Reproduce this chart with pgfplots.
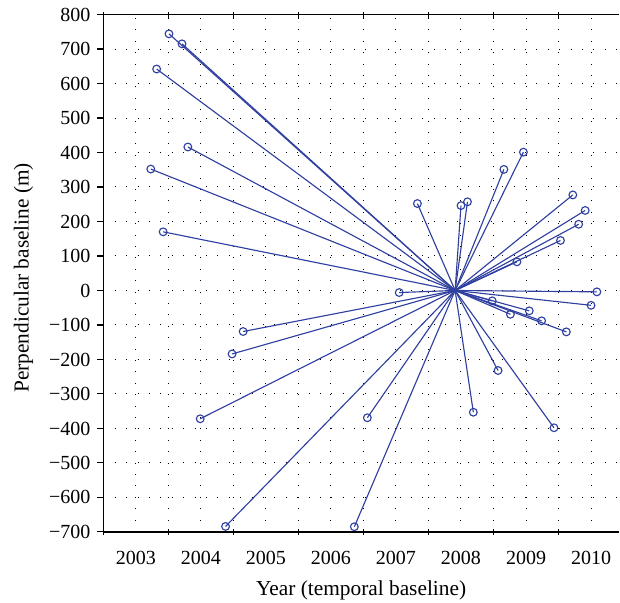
\documentclass[border=0pt]{standalone}
\usepackage{fontspec}
\setmainfont{Liberation Serif}
\usepackage{pgfplots}
\usepackage{pgfplotstable}
\pgfplotsset{compat=1.18}
\definecolor{lblue}{RGB}{48,64,160}

\pgfplotstableread{
x y
2004.01 744
2004.21 715
2003.82 642
2004.30 416
2003.73 352
2003.92 170
2009.46 401
2009.16 351
2007.83 252
2008.50 246
2008.60 257
2010.22 277
2010.41 232
2010.31 192
2010.03 145
2009.36 83
2007.55 -6
2010.59 -4
2010.50 -43
2008.98 -30
2009.55 -59
2009.26 -69
2009.74 -88
2010.12 -120
2009.07 -232
2008.69 -353
2009.93 -398
2007.06 -369
2005.15 -119
2004.98 -184
2004.49 -372
2004.88 -684
2006.86 -685
}\pts

\begin{document}
\begin{tikzpicture}
\begin{axis}[
  name=ax,
  scale only axis, width=386.8pt, height=388.1pt,
  xmin=2003, xmax=2010.93, ymin=-700, ymax=800,
  axis x line=box, axis y line=left,
  axis line style={-, line width=0.9pt},
  every non boxed y axis/.append style={y axis line style={-}},
  xtick={2003,...,2010}, xticklabels={}, minor x tick num=11,
  extra x ticks={2003.5,2004.5,2005.5,2006.5,2007.5,2008.5,2009.5,2010.5},
  extra x tick labels={2003,2004,2005,2006,2007,2008,2009,2010},
  extra x tick style={tick style={draw=none}, xmajorgrids=true},
  ytick={-700,-600,...,800},
  yticklabels={−700,−600,−500,−400,−300,−200,−100,0,100,200,300,400,500,600,700,800},
  xmajorgrids=true, ymajorgrids=true,
  grid style={black, line width=0.75pt, dash pattern=on 0.75pt off 7.8pt},
  xtick align=center, ytick align=outside,
  major tick length=4.5pt, minor tick length=2.5pt,
  tick style={black, line width=0.8pt},
  tick label style={font=\fontsize{15}{18}\selectfont},
  xticklabel style={anchor=base, yshift=-22pt},
  yticklabel style={anchor=east, inner sep=0pt, xshift=-5pt},
  every axis x label/.style={at={([yshift=-48pt]axis description cs:0.5,0)}, anchor=base, font=\fontsize{16}{19}\selectfont},
  every axis y label/.style={at={([xshift=-56pt,yshift=-3.5pt]axis description cs:0,0.5)}, rotate=90, anchor=base, font=\fontsize{16}{19}\selectfont},
  xlabel={Year (temporal baseline)},
  ylabel={Perpendicular baseline (m)},
  clip=false,
]
\addplot[lblue, line width=0.85pt, no marks,
  quiver={u=\thisrow{x}-2008.41, v=\thisrow{y}}]
  table[x expr=2008.41, y expr=0] {\pts};
\addplot[lblue, only marks, mark=o, mark size=2.9pt, mark options={line width=0.85pt}]
  table {\pts};
\end{axis}
\pgfresetboundingbox
\path ([shift={(-77.5pt,-53.25pt)}]ax.south west) rectangle ([shift={(0.75pt,10.9pt)}]ax.north east);
\end{tikzpicture}
\end{document}
